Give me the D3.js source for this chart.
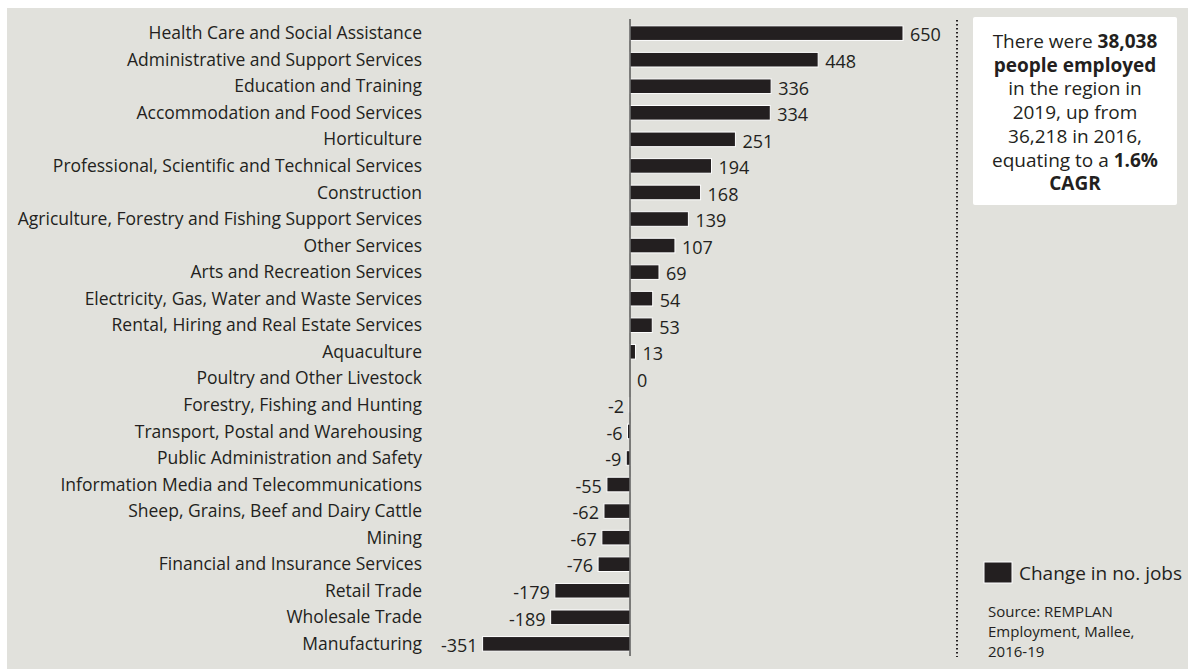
<!DOCTYPE html>
<html>
<head>
<meta charset="utf-8">
<script src="https://cdn.jsdelivr.net/npm/d3@7"></script>
<style>
html,body{margin:0;padding:0;background:#fff;}
svg text{font-family:"Open Sans","Noto Sans",sans-serif;fill:#231f20;}
</style>
</head>
<body>
<svg id="chart" width="1188" height="670"></svg>
<script>
const categories = [
  "Health Care and Social Assistance",
  "Administrative and Support Services",
  "Education and Training",
  "Accommodation and Food Services",
  "Horticulture",
  "Professional, Scientific and Technical Services",
  "Construction",
  "Agriculture, Forestry and Fishing Support Services",
  "Other Services",
  "Arts and Recreation Services",
  "Electricity, Gas, Water and Waste Services",
  "Rental, Hiring and Real Estate Services",
  "Aquaculture",
  "Poultry and Other Livestock",
  "Forestry, Fishing and Hunting",
  "Transport, Postal and Warehousing",
  "Public Administration and Safety",
  "Information Media and Telecommunications",
  "Sheep, Grains, Beef and Dairy Cattle",
  "Mining",
  "Financial and Insurance Services",
  "Retail Trade",
  "Wholesale Trade",
  "Manufacturing"
];
const values = [650,448,336,334,251,194,168,139,107,69,54,53,13,0,-2,-6,-9,-55,-62,-67,-76,-179,-189,-351];
const seriesName = "Change in no. jobs";
const sourceLines = ["Source: REMPLAN","Employment, Mallee,","2016-19"];

const svg = d3.select("#chart");
const barColor = "#231f20";

svg.append("rect").attr("x",7).attr("y",8).attr("width",1181).attr("height",661).attr("fill","#e1e1dc");

const x = d3.scaleLinear().domain([-351,650]).range([482.6,903]);
const y = d3.scaleBand().domain(categories).range([20,657]).paddingInner(0.45).paddingOuter(0.22);

const g = svg.append("g");
g.selectAll("rect.bar").data(values).join("rect")
  .attr("class","bar")
  .attr("x",(d)=>x(Math.min(0,d)))
  .attr("width",(d)=>Math.abs(x(d)-x(0)))
  .attr("y",(d,i)=>y(categories[i]))
  .attr("height",y.bandwidth())
  .attr("fill",barColor)
  .attr("stroke","#ffffff")
  .attr("stroke-width",1);

// zero axis line
svg.append("line").attr("x1",x(0)).attr("x2",x(0)).attr("y1",19).attr("y2",656)
  .attr("stroke","#444").attr("stroke-width",1.3);

// category labels
g.selectAll("text.cat").data(categories).join("text")
  .attr("class","cat")
  .attr("x",422).attr("y",d=>y(d)+y.bandwidth()/2)
  .attr("dy","0.35em").attr("text-anchor","end")
  .attr("font-size",17.5).text(d=>d);

// value labels
g.selectAll("text.val").data(values).join("text")
  .attr("class","val")
  .attr("x",d=> d>=0 ? x(d)+7 : x(d)-5)
  .attr("y",(d,i)=>y(categories[i])+y.bandwidth()/2+2)
  .attr("dy","0.35em")
  .attr("text-anchor",d=> d>=0 ? "start":"end")
  .attr("font-size",18).text(d=>d);

// dotted separator
svg.append("line").attr("x1",957).attr("x2",957).attr("y1",20).attr("y2",657)
  .attr("stroke","#231f20").attr("stroke-width",2).attr("stroke-dasharray","1.5,2.5");

// info box
svg.append("rect").attr("x",973).attr("y",17).attr("width",204).attr("height",188).attr("fill","#ffffff").attr("rx",2);
const boxLines = [
  [["There were ",400],["38,038",700]],
  [["people employed",700]],
  [["in the region in",400]],
  [["2019, up from",400]],
  [["36,218 in 2016,",400]],
  [["equating to a ",400],["1.6%",700]],
  [["CAGR",700]]
];
boxLines.forEach((parts,i)=>{
  const t = svg.append("text").attr("x",1075).attr("y",48+i*23.7).attr("text-anchor","middle").attr("font-size",19);
  parts.forEach(p=>t.append("tspan").attr("font-weight",p[1]).text(p[0]));
});

// legend
svg.append("rect").attr("x",984).attr("y",562).attr("width",28).attr("height",21).attr("fill",barColor).attr("stroke","#fff");
svg.append("text").attr("x",1019).attr("y",580).attr("font-size",19).text(seriesName);

sourceLines.forEach((s,i)=>{
  svg.append("text").attr("x",988).attr("y",617+i*20).attr("font-size",15).text(s);
});
</script>
</body>
</html>
